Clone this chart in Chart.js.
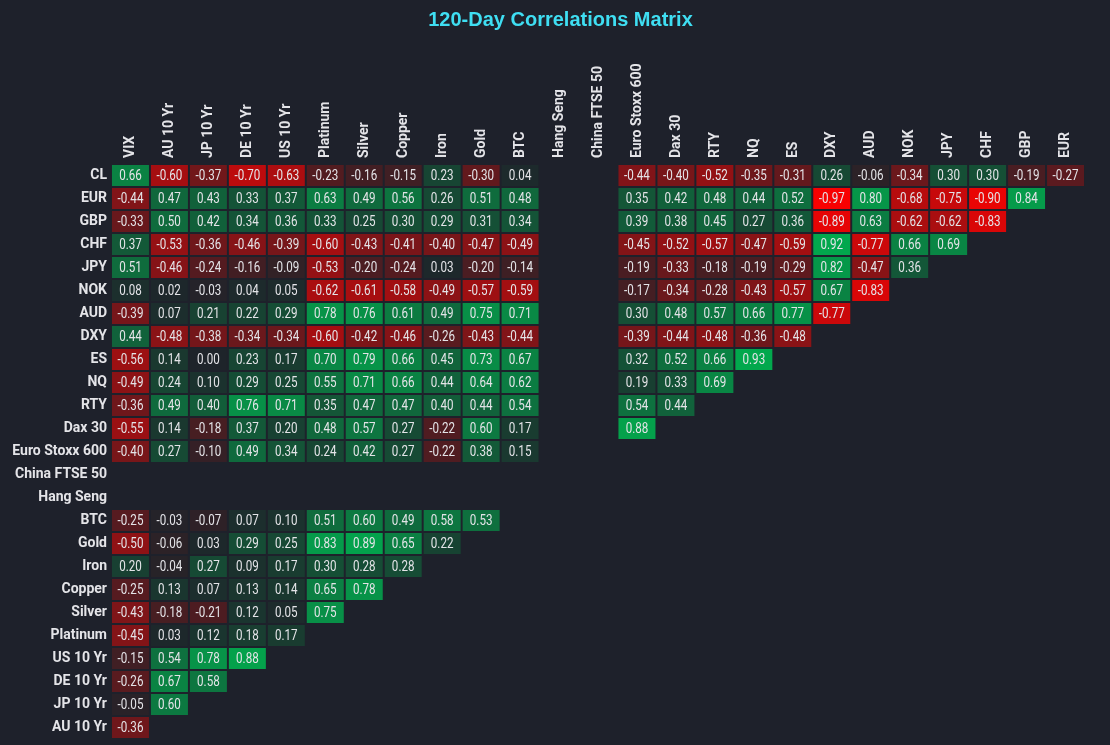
<!DOCTYPE html>
<html lang="en">
<head>
    <meta charset="UTF-8">
    <title>120-Day Correlations Matrix</title>
    <script src="https://cdn.jsdelivr.net/npm/chart.js"></script>
    <style>
        html, body {
            margin: 0;
            padding: 0;
            background: #1e212b;
        }

        .chart-box {
            position: relative;
            width: 1110px;
            height: 745px;
        }
    </style>
</head>
<body>
    <div class="chart-box">
        <canvas id="corrChart"></canvas>
    </div>

    <script>
        const _ = null;

        // columns (top axis) and rows (left axis)
        const colLabels = ['VIX', 'AU 10 Yr', 'JP 10 Yr', 'DE 10 Yr', 'US 10 Yr', 'Platinum', 'Silver', 'Copper', 'Iron', 'Gold', 'BTC',
            'Hang Seng', 'China FTSE 50', 'Euro Stoxx 600', 'Dax 30', 'RTY', 'NQ', 'ES', 'DXY', 'AUD', 'NOK', 'JPY', 'CHF', 'GBP', 'EUR'];
        const rowLabels = ['CL', 'EUR', 'GBP', 'CHF', 'JPY', 'NOK', 'AUD', 'DXY', 'ES', 'NQ', 'RTY', 'Dax 30', 'Euro Stoxx 600',
            'China FTSE 50', 'Hang Seng', 'BTC', 'Gold', 'Iron', 'Copper', 'Silver', 'Platinum', 'US 10 Yr', 'DE 10 Yr', 'JP 10 Yr', 'AU 10 Yr'];

        // one array per row, in column order
        const rowCL = [0.66, -0.60, -0.37, -0.70, -0.63, -0.23, -0.16, -0.15, 0.23, -0.30, 0.04, _, _, -0.44, -0.40, -0.52, -0.35, -0.31, 0.26, -0.06, -0.34, 0.30, 0.30, -0.19, -0.27];
        const rowEUR = [-0.44, 0.47, 0.43, 0.33, 0.37, 0.63, 0.49, 0.56, 0.26, 0.51, 0.48, _, _, 0.35, 0.42, 0.48, 0.44, 0.52, -0.97, 0.80, -0.68, -0.75, -0.90, 0.84];
        const rowGBP = [-0.33, 0.50, 0.42, 0.34, 0.36, 0.33, 0.25, 0.30, 0.29, 0.31, 0.34, _, _, 0.39, 0.38, 0.45, 0.27, 0.36, -0.89, 0.63, -0.62, -0.62, -0.83];
        const rowCHF = [0.37, -0.53, -0.36, -0.46, -0.39, -0.60, -0.43, -0.41, -0.40, -0.47, -0.49, _, _, -0.45, -0.52, -0.57, -0.47, -0.59, 0.92, -0.77, 0.66, 0.69];
        const rowJPY = [0.51, -0.46, -0.24, -0.16, -0.09, -0.53, -0.20, -0.24, 0.03, -0.20, -0.14, _, _, -0.19, -0.33, -0.18, -0.19, -0.29, 0.82, -0.47, 0.36];
        const rowNOK = [0.08, 0.02, -0.03, 0.04, 0.05, -0.62, -0.61, -0.58, -0.49, -0.57, -0.59, _, _, -0.17, -0.34, -0.28, -0.43, -0.57, 0.67, -0.83];
        const rowAUD = [-0.39, 0.07, 0.21, 0.22, 0.29, 0.78, 0.76, 0.61, 0.49, 0.75, 0.71, _, _, 0.30, 0.48, 0.57, 0.66, 0.77, -0.77];
        const rowDXY = [0.44, -0.48, -0.38, -0.34, -0.34, -0.60, -0.42, -0.46, -0.26, -0.43, -0.44, _, _, -0.39, -0.44, -0.48, -0.36, -0.48];
        const rowES = [-0.56, 0.14, 0.00, 0.23, 0.17, 0.70, 0.79, 0.66, 0.45, 0.73, 0.67, _, _, 0.32, 0.52, 0.66, 0.93];
        const rowNQ = [-0.49, 0.24, 0.10, 0.29, 0.25, 0.55, 0.71, 0.66, 0.44, 0.64, 0.62, _, _, 0.19, 0.33, 0.69];
        const rowRTY = [-0.36, 0.49, 0.40, 0.76, 0.71, 0.35, 0.47, 0.47, 0.40, 0.44, 0.54, _, _, 0.54, 0.44];
        const rowDax = [-0.55, 0.14, -0.18, 0.37, 0.20, 0.48, 0.57, 0.27, -0.22, 0.60, 0.17, _, _, 0.88];
        const rowStoxx = [-0.40, 0.27, -0.10, 0.49, 0.34, 0.24, 0.42, 0.27, -0.22, 0.38, 0.15];
        const rowChina = [];
        const rowHangSeng = [];
        const rowBTC = [-0.25, -0.03, -0.07, 0.07, 0.10, 0.51, 0.60, 0.49, 0.58, 0.53];
        const rowGold = [-0.50, -0.06, 0.03, 0.29, 0.25, 0.83, 0.89, 0.65, 0.22];
        const rowIron = [0.20, -0.04, 0.27, 0.09, 0.17, 0.30, 0.28, 0.28];
        const rowCopper = [-0.25, 0.13, 0.07, 0.13, 0.14, 0.65, 0.78];
        const rowSilver = [-0.43, -0.18, -0.21, 0.12, 0.05, 0.75];
        const rowPlatinum = [-0.45, 0.03, 0.12, 0.18, 0.17];
        const rowUS10 = [-0.15, 0.54, 0.78, 0.88];
        const rowDE10 = [-0.26, 0.67, 0.58];
        const rowJP10 = [-0.05, 0.60];
        const rowAU10 = [-0.36];

        const matrix = [rowCL, rowEUR, rowGBP, rowCHF, rowJPY, rowNOK, rowAUD, rowDXY, rowES, rowNQ, rowRTY, rowDax, rowStoxx,
            rowChina, rowHangSeng, rowBTC, rowGold, rowIron, rowCopper, rowSilver, rowPlatinum, rowUS10, rowDE10, rowJP10, rowAU10];

        const cells = [];
        matrix.forEach((row, r) => {
            row.forEach((v, c) => {
                if (v !== null && v !== undefined) cells.push({ r: r, c: c, v: v });
            });
        });

        const FONT = "'Roboto', 'Liberation Sans', sans-serif";
        const TEXT = '#e4e4e8';

        // dark middle, red for -1, green for +1
        const MID = [30, 36, 42];
        const NEG = [255, 0, 0];
        const POS = [0, 178, 80];
        function colorFor(v) {
            const end = v < 0 ? NEG : POS;
            const t = Math.min(Math.abs(v), 1);
            const c = MID.map((m, i) => Math.round(m + (end[i] - m) * t));
            return 'rgb(' + c.join(',') + ')';
        }

        const bgPlugin = {
            id: 'bg',
            beforeDraw(chart) {
                const ctx = chart.ctx;
                ctx.save();
                ctx.fillStyle = '#1e212b';
                ctx.fillRect(0, 0, chart.width, chart.height);
                ctx.restore();
            }
        };

        // value text in each cell, squeezed a little to look like the narrow original font
        const cellLabels = {
            id: 'cellLabels',
            afterDatasetsDraw(chart) {
                const ctx = chart.ctx;
                const meta = chart.getDatasetMeta(0);
                ctx.save();
                ctx.font = '14px ' + FONT;
                ctx.fillStyle = TEXT;
                ctx.textAlign = 'center';
                ctx.textBaseline = 'middle';
                meta.data.forEach((bar, i) => {
                    ctx.save();
                    ctx.translate(bar.x, (bar.y + bar.base) / 2 + 1);
                    ctx.scale(0.83, 1);
                    ctx.fillText(cells[i].v.toFixed(2), 0, 0);
                    ctx.restore();
                });
                ctx.restore();
            }
        };

        function noPad(s) {
            s.paddingTop = 0;
            s.paddingBottom = 0;
            s.paddingLeft = 0;
            s.paddingRight = 0;
        }

        Chart.defaults.font.family = FONT;

        new Chart(document.getElementById('corrChart'), {
            type: 'bar',
            data: {
                labels: colLabels,
                datasets: [{
                    data: cells.map(c => ({ x: colLabels[c.c], y: [c.r - 0.456, c.r + 0.456], v: c.v })),
                    backgroundColor: ctx => ctx.raw ? colorFor(ctx.raw.v) : 'transparent',
                    borderWidth: 0,
                    barPercentage: 0.95,
                    categoryPercentage: 1
                }]
            },
            options: {
                responsive: true,
                maintainAspectRatio: false,
                animation: false,
                events: [],
                layout: {
                    padding: { left: 11, right: 0, top: 0, bottom: 6 }
                },
                plugins: {
                    legend: { display: false },
                    tooltip: { enabled: false },
                    title: {
                        display: true,
                        text: '120-Day Correlations Matrix',
                        color: '#3fdef2',
                        font: { size: 20, weight: 'bold', family: "'Liberation Sans', 'Roboto', sans-serif" },
                        padding: { top: 8, bottom: 8 }
                    }
                },
                scales: {
                    x: {
                        type: 'category',
                        position: 'top',
                        grid: { display: false, drawTicks: false },
                        border: { display: false },
                        ticks: {
                            color: TEXT,
                            font: { size: 14, weight: 'bold' },
                            maxRotation: 90,
                            minRotation: 90,
                            autoSkip: false,
                            padding: 6,
                            labelOffset: 17
                        },
                        afterFit(s) { s.height = 124; noPad(s); }
                    },
                    y: {
                        type: 'linear',
                        reverse: true,
                        min: -0.5,
                        max: 24.5,
                        grid: { display: false, drawTicks: false },
                        border: { display: false },
                        afterBuildTicks(s) { s.ticks = rowLabels.map((_l, i) => ({ value: i })); },
                        ticks: {
                            color: TEXT,
                            font: { size: 14, weight: 'bold' },
                            autoSkip: false,
                            padding: 4,
                            callback: v => rowLabels[v]
                        },
                        afterFit(s) { s.width = 100; noPad(s); }
                    },
                    yRight: {
                        type: 'linear',
                        position: 'right',
                        grid: { display: false, drawTicks: false },
                        border: { display: false },
                        ticks: { display: false },
                        afterFit(s) { s.width = 25; noPad(s); }
                    }
                }
            },
            plugins: [bgPlugin, cellLabels]
        });
    </script>
</body>
</html>
